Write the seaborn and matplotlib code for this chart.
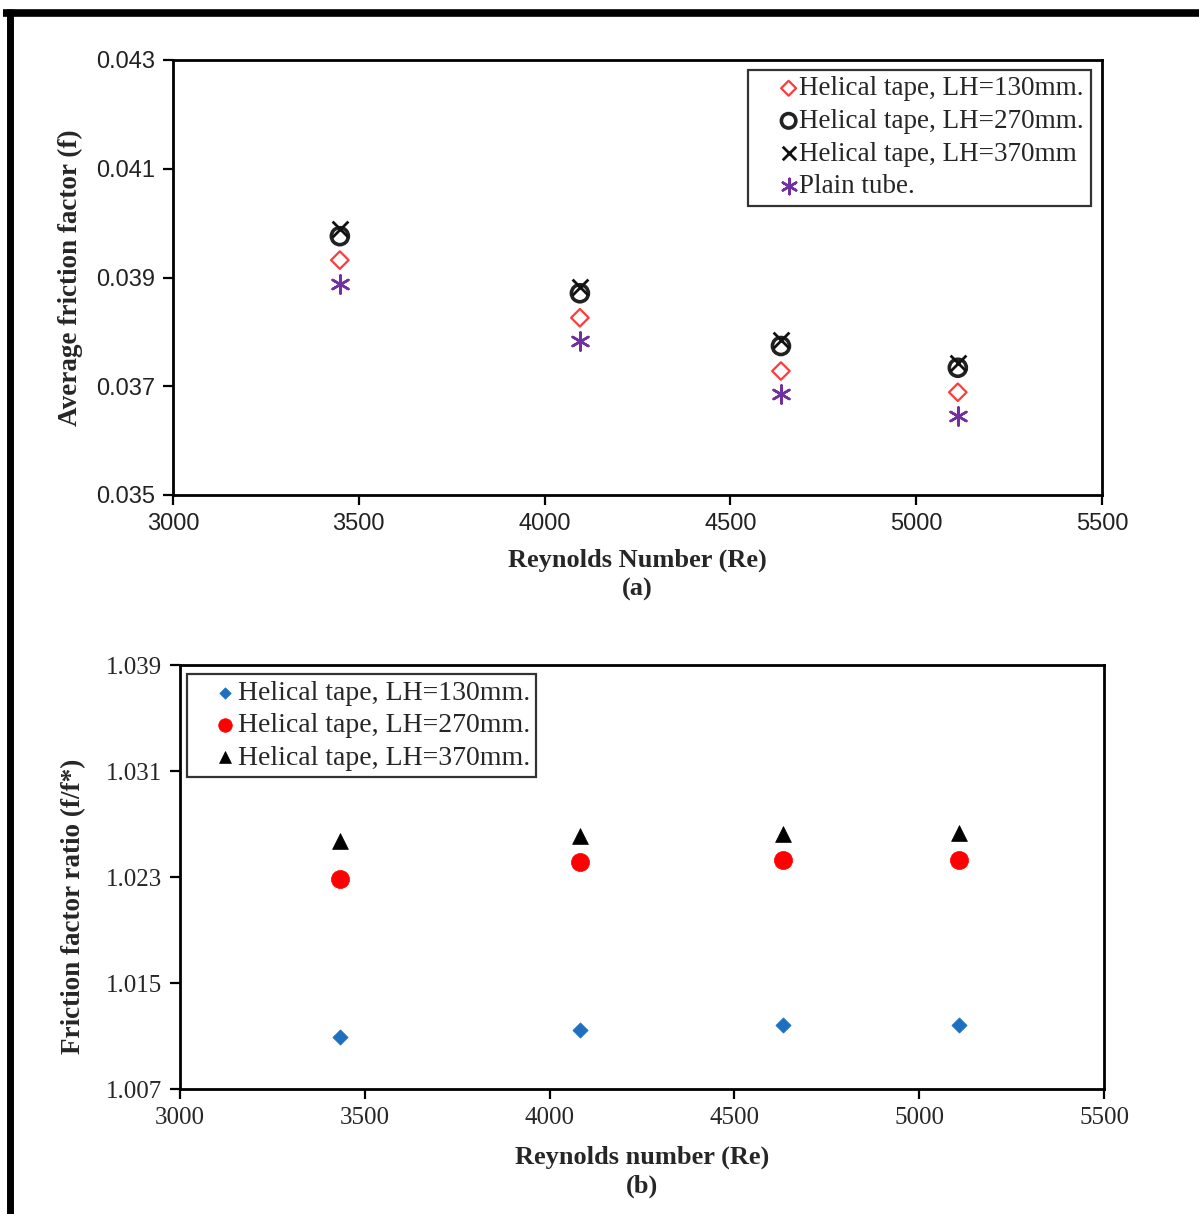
import numpy as np
import pandas as pd
import matplotlib
matplotlib.use("Agg")
import matplotlib.pyplot as plt
from matplotlib.lines import Line2D
import seaborn as sns

sns.set_theme(style="white")
plt.rcParams["font.family"] = ["Liberation Serif", "DejaVu Serif"]

# (a) average friction factor vs Reynolds number
re_a = [3449, 4095, 4636, 5112]
f_130 = [0.03932, 0.03826, 0.03728, 0.03689]
f_270 = [0.03976, 0.03871, 0.03774, 0.03734]
f_370 = [0.03989, 0.03883, 0.03785, 0.03743]
f_plain = [0.03888, 0.03783, 0.03686, 0.03645]
labels_a = ["Helical tape, LH=130mm.", "Helical tape, LH=270mm.",
            "Helical tape, LH=370mm", "Plain tube."]

# (b) friction factor ratio vs Reynolds number
re_b = [3433, 4083, 4631, 5108]
r_130 = [1.01092, 1.01145, 1.01183, 1.01183]
r_270 = [1.02285, 1.02413, 1.02428, 1.02428]
r_370 = [1.02572, 1.02609, 1.02625, 1.02632]
labels_b = ["Helical tape, LH=130mm.", "Helical tape, LH=270mm.",
            "Helical tape, LH=370mm."]

xticks = [3000, 3500, 4000, 4500, 5000, 5500]
yticks_a = [0.035, 0.037, 0.039, 0.041, 0.043]
yticks_b = [1.007, 1.015, 1.023, 1.031, 1.039]

W, H = 1199, 1214
fig = plt.figure(figsize=(W / 100, H / 100), dpi=100)
fig.patch.set_facecolor("white")

ax1 = fig.add_axes([173 / W, 1 - 495 / H, (1102 - 173) / W, (495 - 60) / H])
ax2 = fig.add_axes([180 / W, 1 - 1089 / H, (1104 - 180) / W, (1089 - 665) / H])

# ---- panel (a)
sns.scatterplot(x=re_a, y=f_130, marker="D", s=80, facecolor="none",
                edgecolor="#ff3b3b", linewidth=1.6, ax=ax1, label=labels_a[0])
sns.scatterplot(x=re_a, y=f_270, marker="o", s=150, facecolor="none",
                edgecolor="#222222", linewidth=2.6, ax=ax1, label=labels_a[1])
sns.scatterplot(x=re_a, y=f_370, marker="x", s=130, color="#111111",
                linewidth=2.0, ax=ax1, label=labels_a[2])
sns.scatterplot(x=re_a, y=f_plain, marker=(6, 2, 0), s=170, color="#7030a0",
                linewidth=1.8, ax=ax1, label=labels_a[3])

ax1.set_xlim(3000, 5500)
ax1.set_ylim(0.035, 0.043)
ax1.set_xticks(xticks)
ax1.set_yticks(yticks_a)
ax1.set_xticklabels([str(v) for v in xticks], family="Liberation Sans",
                    fontsize=17, color="#222222")
ax1.set_yticklabels([f"{v:.3f}" for v in yticks_a], family="Liberation Sans",
                    fontsize=17, color="#222222")
ax1.set_xlabel("Reynolds Number (Re)\n(a)", fontsize=19, fontweight="bold",
               labelpad=10, linespacing=1.3)
ax1.set_ylabel("Average friction factor (f)", fontsize=19.5, fontweight="bold")
ax1.yaxis.set_label_coords(-0.097, 0.5)

leg1 = ax1.legend(loc="upper right", bbox_to_anchor=(0.988, 0.978),
                  fontsize=19.5, frameon=True, fancybox=False,
                  handletextpad=-0.85, handlelength=2.5, borderpad=0.25,
                  labelspacing=0.28, borderaxespad=0, markerscale=0.85)
leg1.get_frame().set_edgecolor("black")
leg1.get_frame().set_linewidth(1.6)

# ---- panel (b)
sns.scatterplot(x=re_b, y=r_130, marker="D", s=60, color="#1f6fc0",
                edgecolor="#1f6fc0", linewidth=0.5, ax=ax2, label=labels_b[0])
sns.scatterplot(x=re_b, y=r_270, marker="o", s=170, color="#ff0000",
                edgecolor="#ff0000", linewidth=0.5, ax=ax2, label=labels_b[1])
sns.scatterplot(x=re_b, y=r_370, marker="^", s=130, color="black",
                edgecolor="black", linewidth=0.5, ax=ax2, label=labels_b[2])

ax2.set_xlim(3000, 5500)
ax2.set_ylim(1.007, 1.039)
ax2.set_xticks(xticks)
ax2.set_yticks(yticks_b)
ax2.set_xticklabels([str(v) for v in xticks], fontsize=18)
ax2.set_yticklabels([f"{v:.3f}" for v in yticks_b], fontsize=18)
ax2.set_xlabel("Reynolds number (Re)\n(b)", fontsize=19, fontweight="bold",
               labelpad=12, linespacing=1.3)
ax2.set_ylabel("Friction factor ratio (f/f*)", fontsize=19.5, fontweight="bold")
ax2.yaxis.set_label_coords(-0.102, 0.43)

leg2 = ax2.legend(loc="upper left", bbox_to_anchor=(0.008, 0.978),
                  fontsize=20, frameon=True, fancybox=False,
                  handletextpad=-0.7, handlelength=2.3, borderpad=0.22,
                  labelspacing=0.25, borderaxespad=0, markerscale=0.75)
leg2.get_frame().set_edgecolor("black")
leg2.get_frame().set_linewidth(1.6)

for ax in (ax1, ax2):
    ax.set_facecolor("white")
    ax.grid(False)
    for sp in ax.spines.values():
        sp.set_color("black")
        sp.set_linewidth(2.0)
    ax.tick_params(axis="both", direction="out", length=7, width=1.6,
                   color="black", pad=6, bottom=True, left=True)

# heavy frame lines along the top and left edge of the page
fig.add_artist(Line2D([3 / W, 1.0], [1 - 12.5 / H, 1 - 12.5 / H],
                      color="black", linewidth=5.5, solid_capstyle="butt",
                      transform=fig.transFigure))
fig.add_artist(Line2D([10.5 / W, 10.5 / W], [0.0, 1 - 9 / H],
                      color="black", linewidth=5.0, solid_capstyle="butt",
                      transform=fig.transFigure))

fig.savefig("out.png", dpi=100, facecolor="white")
